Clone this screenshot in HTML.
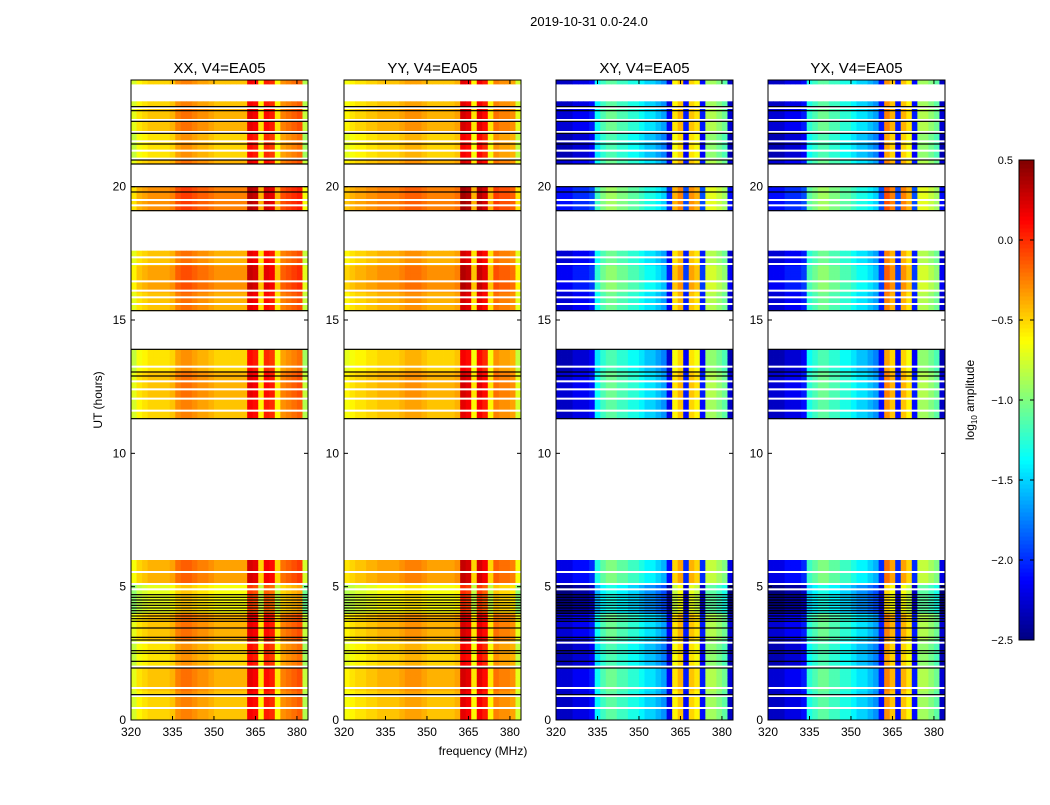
<!DOCTYPE html>
<html><head><meta charset="utf-8">
<style>
body{margin:0;background:#fff;font-family:"Liberation Sans",sans-serif;}
svg text{font-family:"Liberation Sans",sans-serif;}
</style></head>
<body>
<svg id="fig" width="1050" height="800" viewBox="0 0 1050 800" xmlns="http://www.w3.org/2000/svg">
<rect width="1050" height="800" fill="#fff"/>
<text x="589" y="26" font-size="13" text-anchor="middle">2019-10-31 0.0-24.0</text>
<text x="483" y="755" font-size="12" text-anchor="middle">frequency (MHz)</text>
<text transform="translate(102,400) rotate(-90)" font-size="12" text-anchor="middle">UT (hours)</text>
<g id="panelsG"></g>
<g id="cbarG"></g>
</svg>
<script>
// ---- data ----
const panelTitles = ["XX, V4=EA05","YY, V4=EA05","XY, V4=EA05","YX, V4=EA05"];
const panelX = [131,344,556,768];
const freqStart = 320, freqStep = 2;
// log10 amplitude per 2 MHz channel (320..384)
const profXX = [-0.75,-0.6,-0.55,-0.5,-0.5,-0.5,-0.5,-0.45,-0.3,-0.25,-0.25,-0.3,-0.35,-0.35,-0.4,-0.45,-0.45,-0.45,-0.45,-0.45,-0.45,0.15,0.1,-0.6,0.05,0.0,-0.6,-0.3,-0.25,-0.2,-0.15,-0.85];
const profYY = [-0.65,-0.6,-0.55,-0.55,-0.5,-0.5,-0.45,-0.45,-0.45,-0.45,-0.4,-0.35,-0.35,-0.35,-0.4,-0.45,-0.45,-0.45,-0.45,-0.45,-0.4,0.2,0.15,-0.6,0.15,0.05,-0.6,-0.25,-0.3,-0.3,-0.35,-0.75];
const profXY = [-2.3,-2.3,-2.3,-2.2,-2.2,-2.2,-2.1,-1.4,-1.2,-1.1,-1.1,-1.2,-1.2,-1.3,-1.3,-1.4,-1.5,-1.5,-1.6,-1.7,-2.2,-0.6,-0.45,-2.1,-0.5,-0.6,-2.1,-0.9,-0.9,-1.0,-1.1,-2.3];
const profYX = [-2.3,-2.3,-2.3,-2.2,-2.2,-2.2,-2.1,-1.3,-1.2,-1.1,-1.1,-1.2,-1.2,-1.3,-1.3,-1.4,-1.5,-1.5,-1.6,-1.7,-2.1,-0.3,-0.45,-2.1,-0.45,-0.6,-2.1,-0.9,-0.9,-1.0,-1.1,-2.3];
const profiles = [profXX, profYY, profXY, profYX];
// data intervals (hours)
const segStart = [0.0, 11.3, 15.35, 19.1, 20.85, 23.85];
const segEnd   = [6.0, 13.9, 17.6, 20.0, 23.2, 24.0];
// hourly offset on log amplitude
const hourOffset = [0.0,0.05,-0.05,0.05,-0.2,0.1,-0.1,0,0,0,0,0.0,0.05,-0.05,0,0.05,0.15,0.05,0,0.2,0.05,-0.05,0.05,0.0];
// blank stripes and black lines (hours)
const whiteRows = [22.95,22.5,22.05,21.7,21.35,21.05,19.5,19.3,17.35,17.1,16.45,16.1,15.85,15.6,13.25,12.7,12.4,12.05,11.6,5.55,5.1,4.9,2.9,2.0,1.2,0.9,0.45];
const blackRows = [23.0,22.85,22.45,22.0,21.6,21.0,20.85,20.0,19.8,19.1,15.35,13.9,13.05,12.9,11.3,4.7,4.6,4.5,4.4,4.3,4.2,4.1,4.0,3.9,3.8,3.7,3.45,3.1,3.0,2.6,2.5,2.2,1.95,0.95];
const xTicks = [320,335,350,365,380];
const yTicks = [0,5,10,15,20];
const cbTicks = [0.5,0.0,-0.5,-1.0,-1.5,-2.0,-2.5];

// ---- scales ----
const yTop=80, yBot=720, pw=177;
const yS = h => yBot - h*(yBot-yTop)/24;
const xS = (px,f) => px + (f-freqStart)*pw/64;
const vmin=-2.5, vmax=0.5;
function jet(v){
  let t=Math.max(0,Math.min(1,(v-vmin)/(vmax-vmin)));
  const c=x=>Math.round(255*Math.max(0,Math.min(1,x)));
  return `rgb(${c(1.5-Math.abs(4*t-3))},${c(1.5-Math.abs(4*t-2))},${c(1.5-Math.abs(4*t-1))})`;
}
const NS="http://www.w3.org/2000/svg";
function mk(tag,attrs,parent){const e=document.createElementNS(NS,tag);for(const k in attrs)e.setAttribute(k,attrs[k]);parent.appendChild(e);return e;}
const panelsG=document.getElementById('panelsG');
const rowH=0.1;
panelTitles.forEach((title,p)=>{
  const px=panelX[p];
  const g=mk('g',{},panelsG);
  
  
  const hm=mk('g',{},g);
  
  
  const prof=profiles[p];
  for(let s=0;s<segStart.length;s++){
    for(let h=segStart[s];h<segEnd[s]-1e-6;h+=rowH){
      const h2=Math.min(h+rowH,segEnd[s]);
      const off=hourOffset[Math.min(23,Math.floor(h))];
      for(let c=0;c<prof.length;c++){
        const f=freqStart+c*freqStep;
        const r=mk('rect',{x:xS(px,f).toFixed(2),y:yS(h2).toFixed(2),width:(xS(px,f+freqStep)-xS(px,f)+0.4).toFixed(2),height:(yS(h)-yS(h2)+0.4).toFixed(2),fill:jet(prof[c]+off)},hm);
        
        
      }
    }
  }
  whiteRows.forEach(h=>{const r=mk('rect',{x:px,y:yS(h)-1,width:pw,height:2,fill:'#fff'},g);
    
    });
  blackRows.forEach(h=>{const r=mk('rect',{x:px,y:yS(h)-0.6,width:pw,height:1.2,fill:'#000'},g);
    
    });
  const fr=mk('rect',{x:px,y:yTop,width:pw,height:yBot-yTop,fill:'none',stroke:'#000','stroke-width':1},g);
  
  
  const tt=mk('text',{x:px+pw/2,y:73,'font-size':15,'text-anchor':'middle'},g);tt.textContent=title;
  
  
  xTicks.forEach(f=>{const x=xS(px,f);
    mk('line',{x1:x,x2:x,y1:yBot,y2:yBot-4,stroke:'#000'},g);
    mk('line',{x1:x,x2:x,y1:yTop,y2:yTop+4,stroke:'#000'},g);
    const l=mk('text',{x:x,y:yBot+16,'font-size':12,'text-anchor':'middle'},g);l.textContent=f;
    
    });
  yTicks.forEach(v=>{const y=yS(v);
    mk('line',{x1:px,x2:px+4,y1:y,y2:y,stroke:'#000'},g);
    mk('line',{x1:px+pw,x2:px+pw-4,y1:y,y2:y,stroke:'#000'},g);
    const l=mk('text',{x:px-5,y:y+4,'font-size':12,'text-anchor':'end'},g);l.textContent=v;
    
    });
});
// colorbar
const cb=document.getElementById('cbarG');


const cbx=1019,cbw=15,cbt=160,cbb=640;
for(let i=0;i<120;i++){const v=vmin+(i+0.5)*(vmax-vmin)/120;
  const y=cbb-(i+1)*(cbb-cbt)/120;
  mk('rect',{x:cbx,y:y,width:cbw,height:(cbb-cbt)/120+0.5,fill:jet(v)},cb);}
mk('rect',{x:cbx,y:cbt,width:cbw,height:cbb-cbt,fill:'none',stroke:'#000'},cb);
cbTicks.forEach(v=>{const y=cbb-(v-vmin)*(cbb-cbt)/(vmax-vmin);
  mk('line',{x1:cbx,x2:cbx+4,y1:y,y2:y,stroke:'#000'},cb);
  mk('line',{x1:cbx+cbw-4,x2:cbx+cbw,y1:y,y2:y,stroke:'#000'},cb);
  const l=mk('text',{x:1013,y:y+4,'font-size':11,'text-anchor':'end'},cb);l.textContent=v.toFixed(1).replace('-','\u2212');
  
  });
const cl=mk('text',{transform:'translate(974,400) rotate(-90)','font-size':12,'text-anchor':'middle'},cb);
cl.innerHTML='log<tspan font-size="8" dy="3">10</tspan><tspan dy="-3"> amplitude</tspan>';


</script>
</body></html>
